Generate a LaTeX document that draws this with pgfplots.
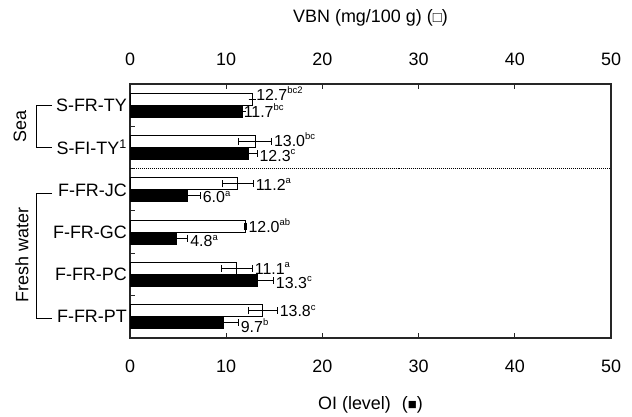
\documentclass[border=0pt]{standalone}
\usepackage{fontspec}
\setmainfont{Liberation Sans}
\usepackage{pgfplots}
\pgfplotsset{compat=1.18}
\newcommand{\sz}{\fontsize{18}{21}\selectfont}
\newcommand{\vs}{\fontsize{16}{18}\selectfont}
\newcommand{\sps}[1]{\raisebox{0.42em}{\fontsize{9.5}{10}\selectfont #1}}
\begin{document}
\begin{tikzpicture}[font=\sz]
\path (0,0) rectangle (632bp,416bp);
\begin{axis}[
  at={(130bp,78bp)}, anchor=south west,
  width=481bp, height=254bp, scale only axis,
  xmin=0, xmax=50, ymin=0, ymax=6,
  axis line style={black!85, line width=1.1bp},
  xtick={0,10,...,50},
  tick align=inside,
  major tick length=5bp, minor tick length=5bp,
  tick style={black!85, line width=1bp},
  xtick pos=both,
  ytick={1,2,3,4,5}, yticklabels={},
  ytick pos=left,
  extra y ticks={0.5,1.5,2.5,3.5,4.5,5.5},
  extra y tick labels={F-FR-PT,F-FR-PC,F-FR-GC,F-FR-JC,S-FI-TY\textsuperscript{1},S-FR-TY},
  extra y tick style={major tick length=0pt},
  /pgf/number format/assume math mode=true,
  ticklabel style={font=\sz},
  xticklabel style={yshift=-18bp},
  yticklabel style={inner sep=3bp},
  xlabel={OI (level)\,\, ({\fontsize{15}{15}\selectfont■})},
  xlabel style={at={(axis description cs:0.5,0)}, anchor=center, yshift=-67bp, font=\sz},
  clip=false,
]
% VBN (white)
\addplot[xbar, bar shift=0pt, bar width=12bp, fill=white, draw=black, line width=0.9bp,
  error bars/.cd, x dir=both, x explicit,
  error bar style={line width=0.8bp, black},
  error mark options={rotate=90, black, mark size=3.5bp, line width=0.8bp}]
coordinates {
 (12.7,5.642) +- (0,0)
 (13.0,4.642) +- (1.7,0)
 (11.2,3.642) +- (1.6,0)
 (12.0,2.642) +- (0.1,0)
 (11.1,1.642) +- (1.6,0)
 (13.8,0.642) +- (1.5,0)
};
% OI (black)
\addplot[xbar, bar shift=0pt, bar width=12bp, fill=black, draw=black, line width=0.9bp,
  error bars/.cd, x dir=both, x explicit,
  error bar style={line width=0.8bp, black},
  error mark options={rotate=90, black, mark size=3.5bp, line width=0.8bp}]
coordinates {
 (11.7,5.358) +- (0,0)
 (12.3,4.358) +- (0.9,0)
 (6.0,3.358) +- (1.3,0)
 (4.8,2.358) +- (1.2,0)
 (13.3,1.358) +- (1.6,0)
 (9.7,0.358) +- (1.55,0)
};
% value labels
\addplot[draw=none, mark=none, nodes near coords, point meta=explicit symbolic,
  nodes near coords style={anchor=base west, inner sep=1bp, font=\vs}]
coordinates {
 (13.0,5.62) [12.7\sps{bc2}]
 (11.7,5.22) [11.7\sps{bc}]
 (14.85,4.53) [13.0\sps{bc}]
 (13.35,4.17) [12.3\sps{c}]
 (12.95,3.48) [11.2\sps{a}]
 (7.45,3.19) [6.0\sps{a}]
 (12.2,2.5) [12.0\sps{ab}]
 (6.15,2.15) [4.8\sps{a}]
 (12.85,1.5) [11.1\sps{a}]
 (15.05,1.17) [13.3\sps{c}]
 (15.45,0.5) [13.8\sps{c}]
 (11.4,0.14) [9.7\sps{b}]
};
% divider
\addplot[densely dotted, line width=1bp, black] coordinates {(0,4) (50,4)};
\coordinate (g1) at (axis cs:0,5.5);
\coordinate (g2) at (axis cs:0,4.5);
\coordinate (g3) at (axis cs:0,3.5);
\coordinate (g6) at (axis cs:0,0.5);
\coordinate (sea) at (axis cs:0,5);
\coordinate (fw) at (axis cs:0,2);
\end{axis}
\begin{axis}[
  at={(130bp,78bp)}, anchor=south west,
  width=481bp, height=254bp, scale only axis,
  xmin=0, xmax=50, ymin=0, ymax=6,
  hide y axis,
  axis x line*=top,
  axis line style={black!85, line width=1.1bp},
  xtick={0,10,...,50},
  tick align=inside, major tick length=5bp,
  tick style={black!85, line width=1bp},
  xticklabel pos=upper,
  /pgf/number format/assume math mode=true,
  ticklabel style={font=\sz},
  xticklabel style={yshift=15bp},
  xlabel={VBN (mg/100 g) ({\fontsize{15}{15}\selectfont□})},
  xlabel style={at={(axis description cs:0.5,1)}, anchor=center, yshift=66bp, font=\sz},
]
\end{axis}
\draw[line width=0.9bp, black] ([xshift=-78bp]g1) -- ([xshift=-94bp]g1) -- ([xshift=-94bp]g2) -- ([xshift=-78bp]g2);
\draw[line width=0.9bp, black] ([xshift=-78bp,yshift=-4bp]g3) -- ([xshift=-94bp,yshift=-4bp]g3) -- ([xshift=-94bp,yshift=-2bp]g6) -- ([xshift=-78bp,yshift=-2bp]g6);
\node[rotate=90, font=\sz] at ([xshift=-110bp]sea) {Sea};
\node[rotate=90, font=\sz] at ([xshift=-108bp,yshift=-2bp]fw) {Fresh water};
\end{tikzpicture}
\end{document}
